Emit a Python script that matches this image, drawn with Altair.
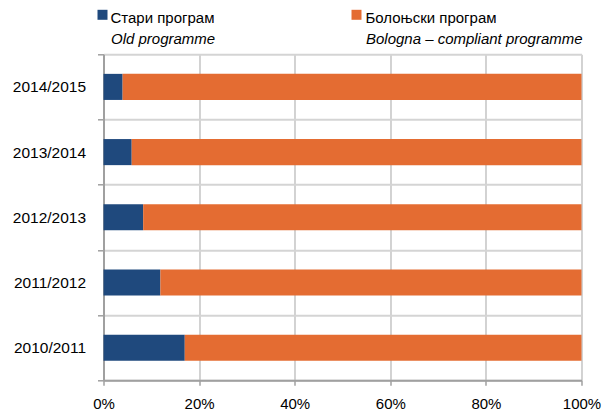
import altair as alt
import pandas as pd

years = ["2014/2015", "2013/2014", "2012/2013", "2011/2012", "2010/2011"]
old_values = [4.0, 5.9, 8.3, 11.9, 17.0]
bologna_values = [96.0, 94.1, 91.7, 88.1, 83.0]
series_sr = ["Стари програм", "Болоњски програм"]
series_en = ["Old programme", "Bologna – compliant programme"]
colors = ["#1f497d", "#e46c32"]
x_ticks = [0, 0.2, 0.4, 0.6, 0.8, 1.0]

rows = []
for i, yr in enumerate(years):
    rows.append({"year": yr, "series": series_sr[0], "value": old_values[i], "ord": 0})
    rows.append({"year": yr, "series": series_sr[1], "value": bologna_values[i], "ord": 1})
df = pd.DataFrame(rows)

W, H = 478, 326
FONT = "Liberation Sans"

bars = alt.Chart(df).mark_bar(height={"band": 0.4}).encode(
    x=alt.X(
        "value:Q",
        stack="normalize",
        scale=alt.Scale(domain=[0, 1], nice=False),
        axis=alt.Axis(
            format="%", values=x_ticks, title=None, labelFlush=False,
            grid=True, gridColor="#a6a6a6", gridWidth=1,
            domainColor="#a0a0a0", domainWidth=2,
            tickColor="#a0a0a0", tickSize=5, tickWidth=1.5,
            labelFont=FONT, labelFontSize=15, labelColor="#000000",
            labelPadding=11,
        ),
    ),
    y=alt.Y(
        "year:N",
        sort=years,
        scale=alt.Scale(paddingInner=0, paddingOuter=0),
        axis=alt.Axis(
            title=None, tickBand="extent",
            grid=True, gridColor="#d4d4d4", gridWidth=2,
            domainColor="#a0a0a0", domainWidth=2,
            tickColor="#a0a0a0", tickSize=6, tickWidth=1.5,
            labelFont=FONT, labelFontSize=15.5, labelColor="#000000",
            labelPadding=12,
        ),
    ),
    color=alt.Color("series:N", scale=alt.Scale(domain=series_sr, range=colors), legend=None),
    order=alt.Order("ord:Q"),
)

legend_layers = []
sym_x = [-1, 253]
txt_x = [7, 262]
for i in range(2):
    d = pd.DataFrame({"sr": [series_sr[i]], "en": [series_en[i]]})
    base = alt.Chart(d)
    legend_layers.append(
        base.mark_square(size=100, opacity=1, color=colors[i]).encode(
            x=alt.value(sym_x[i]), y=alt.value(-39.5)
        )
    )
    legend_layers.append(
        base.mark_text(align="left", baseline="alphabetic", font=FONT, fontSize=15, color="#000000").encode(
            x=alt.value(txt_x[i]), y=alt.value(-31), text="sr:N"
        )
    )
    legend_layers.append(
        base.mark_text(align="left", baseline="alphabetic", font=FONT, fontSize=15,
                       fontStyle="italic", color="#000000").encode(
            x=alt.value(txt_x[i] + 0.5), y=alt.value(-10.5), text="en:N"
        )
    )

chart = alt.layer(bars, *legend_layers).properties(
    width=W, height=H,
    autosize=alt.AutoSizeParams(type="none"),
    padding={"left": 95.5, "top": 46.3, "right": 20, "bottom": 32},
).configure_view(stroke=None)

chart.save("out.html", embed_options={"renderer": "svg", "actions": False})
